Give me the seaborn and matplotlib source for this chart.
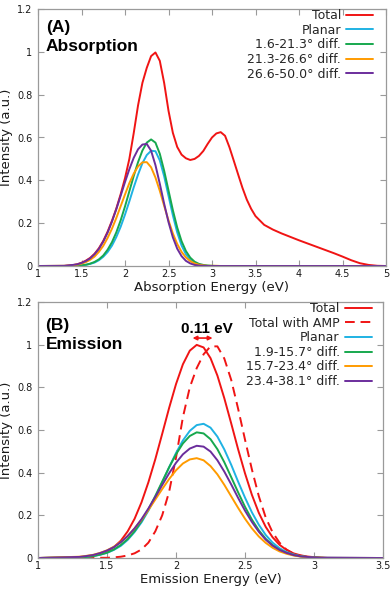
import matplotlib
matplotlib.use("Agg")
import matplotlib.pyplot as plt
import matplotlib.ticker as mticker
import pandas as pd
import seaborn as sns

# ---------------- Absorption panel data ----------------
abs_energy_total = [1.0,
    1.30, 1.35, 1.40, 1.45, 1.50, 1.55, 1.60, 1.65, 1.70, 1.75,
    1.80, 1.85, 1.90, 1.95, 2.00, 2.05, 2.10, 2.15, 2.20, 2.25,
    2.30, 2.35, 2.40, 2.45, 2.50, 2.55, 2.60, 2.65, 2.70, 2.75,
    2.80, 2.85, 2.90, 2.95, 3.00, 3.05, 3.10, 3.15, 3.20, 3.25,
    3.30, 3.35, 3.40, 3.45, 3.50,
    3.6, 3.7, 3.8, 3.9, 4.0, 4.1, 4.2, 4.3, 4.4, 4.5, 4.6, 4.7, 4.8, 4.9, 5.0]
abs_total = [0.0,
    0.0, 0.002, 0.004, 0.008, 0.015, 0.025, 0.038, 0.057, 0.083, 0.117,
    0.160, 0.211, 0.268, 0.335, 0.410, 0.500, 0.620, 0.750, 0.855, 0.925,
    0.980, 0.997, 0.958, 0.855, 0.725, 0.622, 0.556, 0.520, 0.503, 0.495,
    0.500, 0.514, 0.537, 0.570, 0.600, 0.619, 0.625, 0.608, 0.555, 0.492,
    0.428, 0.365, 0.310, 0.267, 0.233,
    0.192, 0.170, 0.152, 0.136, 0.120, 0.105, 0.090, 0.075, 0.060, 0.044,
    0.027, 0.013, 0.005, 0.001, 0.0]

abs_energy_comp = [1.0,
    1.30, 1.35, 1.40, 1.45, 1.50, 1.55, 1.60, 1.65, 1.70, 1.75,
    1.80, 1.85, 1.90, 1.95, 2.00, 2.05, 2.10, 2.15, 2.20, 2.25,
    2.30, 2.35, 2.40, 2.45, 2.50, 2.55, 2.60, 2.65, 2.70, 2.75,
    2.80, 2.85, 2.90, 2.95, 3.00, 3.05, 3.10, 3.15, 3.20, 5.0]
abs_planar = [0.0,
    0.0, 0.0, 0.001, 0.002, 0.003, 0.005, 0.010, 0.016, 0.027, 0.043,
    0.065, 0.095, 0.135, 0.183, 0.240, 0.302, 0.367, 0.427, 0.480, 0.518,
    0.538, 0.536, 0.493, 0.419, 0.328, 0.237, 0.157, 0.096, 0.055, 0.028,
    0.014, 0.006, 0.002, 0.001, 0.0, 0.0, 0.0, 0.0, 0.0, 0.0]
abs_g1 = [0.0,
    0.0, 0.0, 0.001, 0.002, 0.003, 0.006, 0.011, 0.019, 0.031, 0.049,
    0.076, 0.111, 0.157, 0.213, 0.278, 0.349, 0.420, 0.485, 0.539, 0.576,
    0.591, 0.576, 0.524, 0.445, 0.353, 0.261, 0.180, 0.116, 0.070, 0.039,
    0.020, 0.010, 0.005, 0.002, 0.001, 0.0, 0.0, 0.0, 0.0, 0.0]
abs_g2 = [0.0,
    0.001, 0.002, 0.004, 0.006, 0.011, 0.018, 0.029, 0.044, 0.066, 0.094,
    0.131, 0.174, 0.224, 0.279, 0.334, 0.387, 0.431, 0.465, 0.484, 0.485,
    0.461, 0.413, 0.351, 0.281, 0.213, 0.152, 0.103, 0.066, 0.040, 0.023,
    0.012, 0.006, 0.003, 0.001, 0.001, 0.001, 0.0, 0.0, 0.0, 0.0]
abs_g3 = [0.0,
    0.001, 0.003, 0.005, 0.008, 0.014, 0.023, 0.036, 0.055, 0.080, 0.114,
    0.156, 0.207, 0.265, 0.328, 0.392, 0.452, 0.505, 0.545, 0.567, 0.570,
    0.538, 0.471, 0.384, 0.291, 0.205, 0.134, 0.081, 0.046, 0.024, 0.012,
    0.005, 0.002, 0.001, 0.0, 0.0, 0.0, 0.0, 0.0, 0.0, 0.0]
abs_labels = ["Total", "Planar", "1.6-21.3° diff.", "21.3-26.6° diff.", "26.6-50.0° diff."]

# ---------------- Emission panel data ----------------
em_energy = [1.0,
    1.30, 1.35, 1.40, 1.45, 1.50, 1.55, 1.60, 1.65, 1.70, 1.75,
    1.80, 1.85, 1.90, 1.95, 2.00, 2.05, 2.10, 2.15, 2.20, 2.25,
    2.30, 2.35, 2.40, 2.45, 2.50, 2.55, 2.60, 2.65, 2.70, 2.75,
    2.80, 2.85, 2.90, 2.95, 3.00, 3.05, 3.10, 3.5]
em_total = [0.0,
    0.003, 0.005, 0.010, 0.018, 0.031, 0.051, 0.081, 0.125, 0.184, 0.261,
    0.355, 0.463, 0.582, 0.703, 0.815, 0.908, 0.972, 0.999, 0.987, 0.937,
    0.855, 0.749, 0.631, 0.510, 0.397, 0.296, 0.212, 0.146, 0.097, 0.062,
    0.038, 0.022, 0.013, 0.007, 0.004, 0.002, 0.001, 0.0]
em_total_amp = [0.0,
    0.0, 0.0, 0.0, 0.001, 0.001, 0.003, 0.006, 0.012, 0.022, 0.040,
    0.072, 0.125, 0.200, 0.310, 0.470, 0.660, 0.800, 0.890, 0.955, 0.992,
    0.992, 0.935, 0.835, 0.700, 0.555, 0.415, 0.290, 0.190, 0.120, 0.072,
    0.040, 0.021, 0.011, 0.005, 0.002, 0.001, 0.0, 0.0]
em_planar = [0.0,
    0.003, 0.005, 0.009, 0.015, 0.024, 0.038, 0.057, 0.085, 0.122, 0.167,
    0.222, 0.285, 0.354, 0.425, 0.492, 0.551, 0.596, 0.623, 0.629, 0.611,
    0.569, 0.509, 0.437, 0.358, 0.283, 0.214, 0.156, 0.108, 0.072, 0.046,
    0.028, 0.017, 0.009, 0.005, 0.003, 0.001, 0.001, 0.0]
em_g1 = [0.0,
    0.003, 0.005, 0.009, 0.016, 0.025, 0.040, 0.061, 0.089, 0.126, 0.173,
    0.228, 0.291, 0.358, 0.425, 0.486, 0.537, 0.572, 0.589, 0.584, 0.557,
    0.510, 0.449, 0.379, 0.308, 0.240, 0.180, 0.130, 0.090, 0.060, 0.038,
    0.024, 0.014, 0.008, 0.004, 0.002, 0.001, 0.0, 0.0]
em_g2 = [0.0,
    0.006, 0.010, 0.015, 0.024, 0.036, 0.053, 0.075, 0.103, 0.139, 0.179,
    0.225, 0.274, 0.323, 0.370, 0.411, 0.443, 0.462, 0.468, 0.458, 0.431,
    0.392, 0.343, 0.289, 0.235, 0.184, 0.139, 0.101, 0.071, 0.048, 0.031,
    0.020, 0.012, 0.007, 0.004, 0.002, 0.001, 0.0, 0.0]
em_g3 = [0.0,
    0.005, 0.009, 0.014, 0.023, 0.035, 0.051, 0.074, 0.103, 0.139, 0.182,
    0.232, 0.286, 0.342, 0.397, 0.446, 0.486, 0.513, 0.526, 0.522, 0.499,
    0.458, 0.405, 0.345, 0.282, 0.222, 0.169, 0.123, 0.086, 0.058, 0.038,
    0.024, 0.014, 0.008, 0.005, 0.003, 0.001, 0.001, 0.0]
em_labels = ["Total", "Total with AMP", "Planar", "1.9-15.7° diff.",
             "15.7-23.4° diff.", "23.4-38.1° diff."]

shift_label = "0.11 eV"
shift_from, shift_to = 2.16, 2.27

# ---------------- styling ----------------
sns.set_style("ticks")
plt.rcParams["font.family"] = ["DejaVu Sans"]

RED = "#f01414"
BLUE = "#1fb2e3"
GREEN = "#17a84e"
ORANGE = "#ff9b00"
PURPLE = "#6b2d9c"
FRAME = "#9a9a9a"
LW = 1.4

fig = plt.figure(figsize=(3.92, 5.89), dpi=100)
ax1 = fig.add_axes([38 / 392, 1 - 266 / 589, 348 / 392, 257 / 589])
ax2 = fig.add_axes([38 / 392, 1 - 558 / 589, 345 / 392, 256 / 589])

df_at = pd.DataFrame({"E": abs_energy_total, "I": abs_total})
df_ac = pd.DataFrame({"E": abs_energy_comp, "planar": abs_planar,
                      "g1": abs_g1, "g2": abs_g2, "g3": abs_g3})
df_em = pd.DataFrame({"E": em_energy, "total": em_total, "amp": em_total_amp,
                      "planar": em_planar, "g1": em_g1, "g2": em_g2, "g3": em_g3})

# Absorption
sns.lineplot(data=df_at, x="E", y="I", ax=ax1, color=RED, lw=LW, label=abs_labels[0],
             sort=False, estimator=None)
for col, c, lab in zip(["planar", "g1", "g2", "g3"], [BLUE, GREEN, ORANGE, PURPLE], abs_labels[1:]):
    sns.lineplot(data=df_ac, x="E", y=col, ax=ax1, color=c, lw=LW, label=lab,
                 sort=False, estimator=None)

# Emission
sns.lineplot(data=df_em, x="E", y="total", ax=ax2, color=RED, lw=LW, label=em_labels[0],
             sort=False, estimator=None)
sns.lineplot(data=df_em, x="E", y="amp", ax=ax2, color=RED, lw=LW, label=em_labels[1],
             sort=False, estimator=None, linestyle=(0, (5, 3)))
for col, c, lab in zip(["planar", "g1", "g2", "g3"], [BLUE, GREEN, ORANGE, PURPLE], em_labels[2:]):
    sns.lineplot(data=df_em, x="E", y=col, ax=ax2, color=c, lw=LW, label=lab,
                 sort=False, estimator=None)


def style_axes(ax, xmax, xstep, xlabel, leg_x):
    ax.set_xlim(1, xmax)
    ax.set_ylim(0, 1.2)
    ax.xaxis.set_major_locator(mticker.MultipleLocator(xstep))
    ax.yaxis.set_major_locator(mticker.MultipleLocator(0.2))
    ax.xaxis.set_major_formatter(mticker.FormatStrFormatter("%g"))
    ax.yaxis.set_major_formatter(mticker.FuncFormatter(lambda v, p: "%g" % round(v, 2)))
    for s in ax.spines.values():
        s.set_visible(True)
        s.set_color(FRAME)
        s.set_linewidth(0.9)
    ax.tick_params(direction="in", top=True, right=True, length=4, width=0.8,
                   color=FRAME, labelsize=7, labelcolor="#1a1a1a")
    ax.tick_params(axis="x", pad=2.5)
    ax.tick_params(axis="y", pad=4)
    ax.set_xlabel(xlabel, fontsize=9.5, color="#1a1a1a", labelpad=1)
    ax.set_ylabel("Intensity (a.u.)", fontsize=9.5, color="#1a1a1a", labelpad=3)
    h, l = ax.get_legend_handles_labels()
    ax.legend(h, l, loc="upper right", bbox_to_anchor=(leg_x, 1.0), frameon=False,
              markerfirst=False, handlelength=2.15, handletextpad=0.4,
              labelspacing=0.13, borderpad=0, borderaxespad=0, fontsize=9)


style_axes(ax1, 5, 0.5, "Absorption Energy (eV)", 0.963)
style_axes(ax2, 3.5, 0.5, "Emission Energy (eV)", 0.967)

bold = dict(family=["Liberation Sans", "DejaVu Sans"], weight="bold", fontsize=12.5,
            color="black", va="baseline", ha="left")
ax1.text(0.022, 0.912, "(A)", transform=ax1.transAxes, **bold)
ax1.text(0.022, 0.838, "Absorption", transform=ax1.transAxes, **bold)
ax2.text(0.022, 0.891, "(B)", transform=ax2.transAxes, **bold)
ax2.text(0.022, 0.815, "Emission", transform=ax2.transAxes, **bold)

ax2.text(2.225, 1.055, shift_label, family=["Liberation Sans", "DejaVu Sans"],
         weight="bold", fontsize=11, ha="center", va="baseline", color="black")
ax2.annotate("", xy=(shift_to - 0.005, 1.031), xytext=(shift_from - 0.04, 1.031),
             arrowprops=dict(arrowstyle="<|-|>", color=RED, lw=1.2,
                             mutation_scale=6, shrinkA=0, shrinkB=0))

fig.savefig("out.png", dpi=100, facecolor="white")
